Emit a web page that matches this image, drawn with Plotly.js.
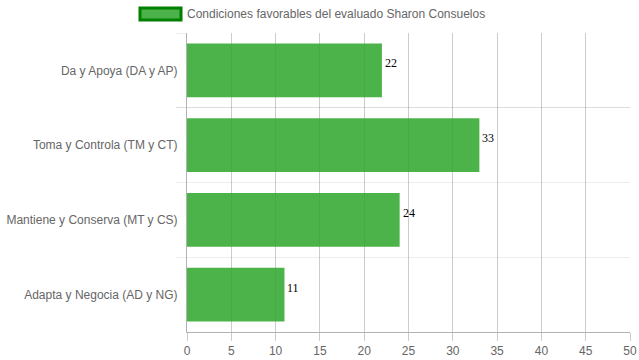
<!DOCTYPE html>
<html>
<head>
<meta charset="utf-8">
<script src="https://cdn.plot.ly/plotly-3.0.1.min.js"></script>
<style>html,body{margin:0;padding:0;background:#fff;}#chart{width:639px;height:360px;}</style>
</head>
<body>
<div id="chart"></div>
<script>
const categories = ["Da y Apoya (DA y AP)", "Toma y Controla (TM y CT)", "Mantiene y Conserva (MT y CS)", "Adapta y Negocia (AD y NG)"];
const values = [22, 33, 24, 11];
const seriesName = "Condiciones favorables del evaluado Sharon Consuelos";

const trace = {
  type: 'bar',
  orientation: 'h',
  x: values,
  y: categories,
  name: seriesName,
  marker: {color: 'rgb(45,166,42)', opacity: 0.85, line: {width: 0}},
  width: 0.72,
  hoverinfo: 'none'
};

const valueLabels = values.map((v, i) => ({
  x: v, y: categories[i], xref: 'x', yref: 'y',
  xanchor: 'left', yanchor: 'middle', xshift: 1, yshift: 7,
  showarrow: false, text: String(v),
  font: {family: 'Liberation Serif', size: 12, color: '#000'}
}));

const layout = {
  width: 639, height: 360,
  margin: {l: 187, r: 9, t: 33, b: 28},
  paper_bgcolor: '#fff', plot_bgcolor: '#fff',
  showlegend: false,
  font: {family: 'Liberation Sans, Arial, sans-serif', size: 12, color: '#666'},
  xaxis: {
    range: [0, 50], dtick: 5, tick0: 0,
    showgrid: true, gridcolor: 'rgba(0,0,0,0.2)', gridwidth: 1,
    zeroline: false,
    showline: true, linecolor: 'rgba(0,0,0,0.3)', linewidth: 1,
    ticks: 'outside', ticklen: 8, tickcolor: 'rgba(0,0,0,0.2)',
    tickfont: {size: 12, color: '#666'},
    fixedrange: true
  },
  yaxis: {
    type: 'category',
    autorange: 'reversed',
    tickson: 'boundaries',
    showgrid: true, gridcolor: 'rgba(0,0,0,0.07)', gridwidth: 1,
    showline: true, linecolor: 'rgba(0,0,0,0.3)', linewidth: 1,
    ticks: 'outside', ticklen: 10, tickcolor: 'rgba(0,0,0,0.07)',
    ticklabelstandoff: 6,
    tickfont: {size: 12, color: '#666'},
    fixedrange: true
  },
  shapes: [{
    type: 'rect', xref: 'paper', yref: 'paper',
    x0: -0.1061, x1: -0.0135, y0: 1.0435, y1: 1.0836,
    fillcolor: 'rgb(76,179,74)', line: {color: 'rgb(0,128,0)', width: 3}
  }],
  annotations: [{
    xref: 'paper', yref: 'paper', x: -0.0045, y: 1.064,
    xanchor: 'left', yanchor: 'middle', showarrow: false,
    text: seriesName, font: {size: 12, color: '#666'}
  }].concat(valueLabels)
};

Plotly.newPlot('chart', [trace], layout, {displayModeBar: false, staticPlot: true});
</script>
</body>
</html>
